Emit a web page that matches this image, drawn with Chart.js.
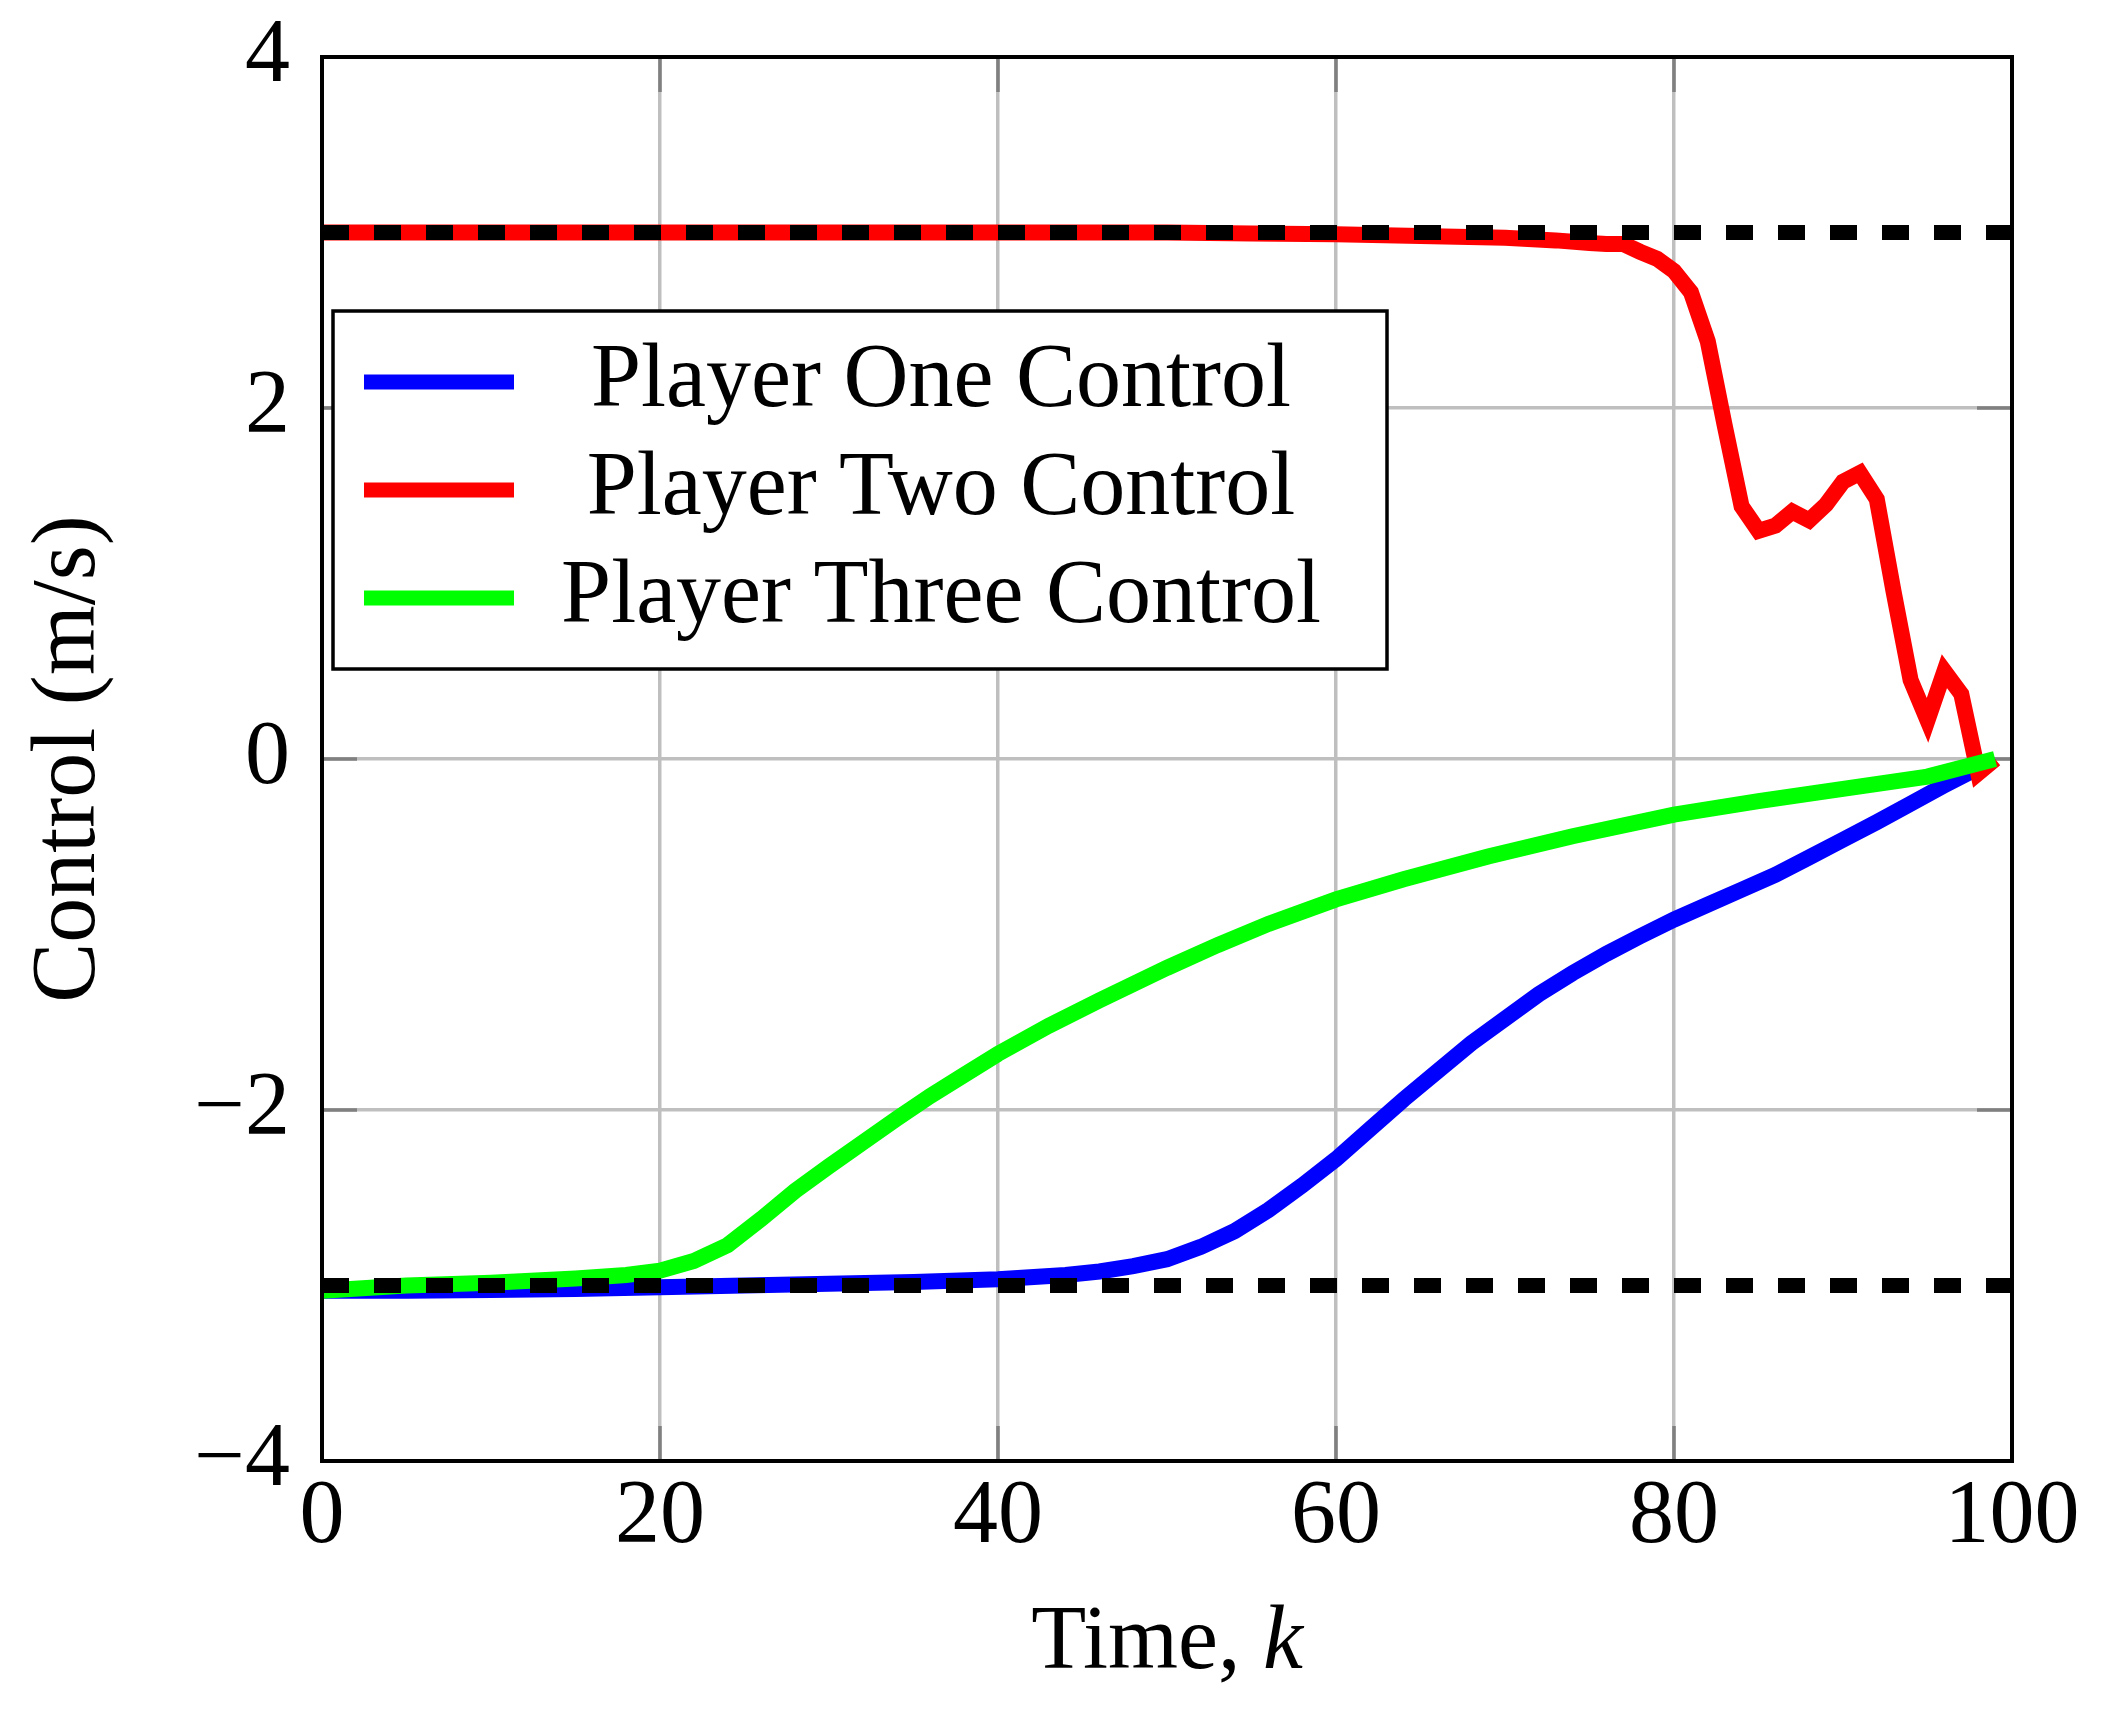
<!DOCTYPE html>
<html>
<head>
<meta charset="utf-8">
<script src="https://cdn.jsdelivr.net/npm/chart.js@4.4.1/dist/chart.umd.min.js"></script>
<style>
  html, body { margin: 0; padding: 0; background: #ffffff; }
  #wrap { width: 2107px; height: 1715px; }
</style>
</head>
<body>
<div id="wrap"><canvas id="c" width="2107" height="1715"></canvas></div>
<script>
// ---- data ----
const xTicks = [0, 20, 40, 60, 80, 100];
const yTicks = [-4, -2, 0, 2, 4];
const seriesLabels = ["Player One Control", "Player Two Control", "Player Three Control"];
const xTitle = "Time, ";
const xTitleVar = "k";
const yTitle = "Control (m/s)";

const boundUpper = 3;
const boundLower = -3;
const boundRange = [0, 100];

const p1Time = [0, 5, 10, 15, 20, 25, 30, 35, 40, 44, 46, 48, 50, 52, 54, 56, 58, 60, 62, 64, 66, 68, 70, 72, 74, 76, 78, 80, 82, 84, 86, 88, 90, 92, 94, 96, 98, 99];
const p1Vals = [-3.03, -3.03, -3.025, -3.02, -3.01, -3.0, -2.99, -2.98, -2.965, -2.94, -2.92, -2.89, -2.85, -2.78, -2.69, -2.57, -2.43, -2.28, -2.11, -1.94, -1.78, -1.62, -1.48, -1.34, -1.22, -1.11, -1.01, -0.915, -0.83, -0.745, -0.66, -0.56, -0.46, -0.36, -0.255, -0.15, -0.05, 0.0];

const p2Time = [0, 10, 20, 30, 40, 50, 55, 60, 65, 70, 73, 75, 76, 77, 78, 79, 80, 81, 82, 83, 84, 85, 86, 87, 88, 89, 90, 91, 92, 93, 94, 95, 96, 97, 98, 99];
const p2Vals = [3.0, 3.0, 3.0, 3.0, 3.0, 3.0, 2.995, 2.99, 2.98, 2.97, 2.955, 2.94, 2.935, 2.935, 2.89, 2.85, 2.78, 2.66, 2.38, 1.9, 1.44, 1.3, 1.33, 1.41, 1.36, 1.45, 1.58, 1.63, 1.48, 0.95, 0.45, 0.22, 0.5, 0.37, -0.08, 0.0];

const p3Time = [0, 5, 10, 15, 18, 20, 22, 24, 26, 28, 30, 32, 34, 36, 38, 40, 43, 46, 50, 53, 56, 60, 64, 69, 74, 80, 85, 90, 95, 97, 99];
const p3Vals = [-3.03, -3.0, -2.985, -2.96, -2.94, -2.915, -2.86, -2.77, -2.62, -2.46, -2.32, -2.185, -2.05, -1.92, -1.8, -1.68, -1.52, -1.375, -1.19, -1.06, -0.94, -0.8, -0.685, -0.555, -0.44, -0.317, -0.24, -0.17, -0.1, -0.05, 0.0];

// ---- styles ----
const FONT = "'Liberation Serif', 'Times New Roman', serif";
const FSIZE = 90;
const colors = ["#0000ff", "#ff0000", "#00ff00"];

function pts(xs, ys) { return xs.map((x, i) => ({ x: x, y: ys[i] })); }
function boundPts(v) { return boundRange.map(x => ({ x: x, y: v })); }

const datasets = [
  { label: "upper bound", data: boundPts(boundUpper), borderColor: "#000000", borderWidth: 15, borderDash: [27, 25], order: 0, isBound: true },
  { label: "lower bound", data: boundPts(boundLower), borderColor: "#000000", borderWidth: 15, borderDash: [27, 25], order: 0, isBound: true },
  { label: seriesLabels[0], data: pts(p1Time, p1Vals), borderColor: colors[0], borderWidth: 16, order: 3 },
  { label: seriesLabels[1], data: pts(p2Time, p2Vals), borderColor: colors[1], borderWidth: 16, order: 2 },
  { label: seriesLabels[2], data: pts(p3Time, p3Vals), borderColor: colors[2], borderWidth: 16, order: 1 }
];
datasets.forEach(d => { d.pointRadius = 0; d.tension = 0; d.fill = false; d.borderCapStyle = 'butt'; d.borderJoinStyle = 'miter'; });

const frame = {
  id: 'frame',
  beforeDatasetsDraw(chart) {
    // short tick marks inside the axis box
    const { ctx, chartArea: a, scales } = chart;
    const L = 35;
    ctx.save();
    ctx.strokeStyle = '#808080';
    ctx.lineWidth = 3.5;
    ctx.beginPath();
    yTicks.forEach(v => {
      const y = scales.y.getPixelForValue(v);
      ctx.moveTo(a.left, y); ctx.lineTo(a.left + L, y);
      ctx.moveTo(a.right, y); ctx.lineTo(a.right - L, y);
    });
    xTicks.forEach(v => {
      const x = scales.x.getPixelForValue(v);
      ctx.moveTo(x, a.bottom); ctx.lineTo(x, a.bottom - L);
      ctx.moveTo(x, a.top); ctx.lineTo(x, a.top + L);
    });
    ctx.stroke();
    ctx.restore();
  },
  afterDatasetsDraw(chart) {
    const { ctx, chartArea: a } = chart;
    ctx.save();
    // axis box
    ctx.strokeStyle = '#000000';
    ctx.lineWidth = 4;
    ctx.strokeRect(a.left, a.top, a.right - a.left, a.bottom - a.top);

    // legend
    const bx = 333, by = 311, bw = 1054, bh = 358;
    ctx.fillStyle = '#ffffff';
    ctx.fillRect(bx, by, bw, bh);
    ctx.lineWidth = 3.5;
    ctx.strokeStyle = '#000000';
    ctx.strokeRect(bx, by, bw, bh);
    const items = chart.data.datasets.filter(d => !d.isBound);
    ctx.font = FSIZE + 'px ' + FONT;
    ctx.textAlign = 'center';
    ctx.textBaseline = 'alphabetic';
    items.forEach((d, i) => {
      const cy = 382 + i * 108;
      ctx.strokeStyle = d.borderColor;
      ctx.lineWidth = 15;
      ctx.lineCap = 'butt';
      ctx.beginPath();
      ctx.moveTo(364, cy); ctx.lineTo(514, cy);
      ctx.stroke();
      ctx.fillStyle = '#000000';
      ctx.fillText(d.label, 941, cy + 24);
    });

    // x axis title: "Time, k" with italic k
    const upright = FSIZE + 'px ' + FONT;
    const italic = 'italic ' + FSIZE + 'px ' + FONT;
    ctx.font = upright;
    const w1 = ctx.measureText(xTitle).width;
    ctx.font = italic;
    const w2 = ctx.measureText(xTitleVar).width;
    const cx = (a.left + a.right) / 2;
    const startX = cx - (w1 + w2) / 2;
    ctx.textAlign = 'left';
    ctx.fillStyle = '#000000';
    ctx.font = upright;
    ctx.fillText(xTitle, startX, 1668);
    ctx.font = italic;
    ctx.fillText(xTitleVar, startX + w1, 1668);
    ctx.restore();
  }
};

function fmt(v) { return v < 0 ? '\u2212' + Math.abs(v) : String(v); }

new Chart(document.getElementById('c'), {
  type: 'line',
  data: { datasets: datasets },
  plugins: [frame],
  options: {
    responsive: false,
    animation: false,
    devicePixelRatio: 1,
    layout: { padding: { left: 0, top: 57, right: 95, bottom: 0 } },
    plugins: { legend: { display: false }, tooltip: { enabled: false }, title: { display: false } },
    scales: {
      x: {
        type: 'linear', min: xTicks[0], max: xTicks[xTicks.length - 1],
        afterBuildTicks: (s) => { s.ticks = xTicks.map(v => ({ value: v })); },
        afterFit: (s) => { s.height = 254; s.paddingLeft = 0; s.paddingRight = 0; s.paddingTop = 0; s.paddingBottom = 0; },
        ticks: { padding: 3, color: '#000000', font: { family: FONT, size: FSIZE, lineHeight: 1.2 }, callback: (v) => fmt(v), maxRotation: 0, autoSkip: false },
        grid: { color: '#bfbfbf', lineWidth: 3.5, drawTicks: false },
        border: { display: false },
        title: { display: false }
      },
      y: {
        type: 'linear', min: yTicks[0], max: yTicks[yTicks.length - 1],
        afterBuildTicks: (s) => { s.ticks = yTicks.map(v => ({ value: v })); },
        afterFit: (s) => { s.width = 322; s.paddingTop = 0; s.paddingBottom = 0; s.paddingLeft = 0; s.paddingRight = 0; },
        ticks: { padding: 32, color: '#000000', font: { family: FONT, size: FSIZE, lineHeight: 1.2 }, callback: (v) => fmt(v), autoSkip: false },
        grid: { color: '#bfbfbf', lineWidth: 3.5, drawTicks: false },
        border: { display: false },
        title: { display: true, text: yTitle, color: '#000000', font: { family: FONT, size: FSIZE, lineHeight: 1.2 }, padding: { top: 16, bottom: 0 } }
      }
    }
  }
});
</script>
</body>
</html>
